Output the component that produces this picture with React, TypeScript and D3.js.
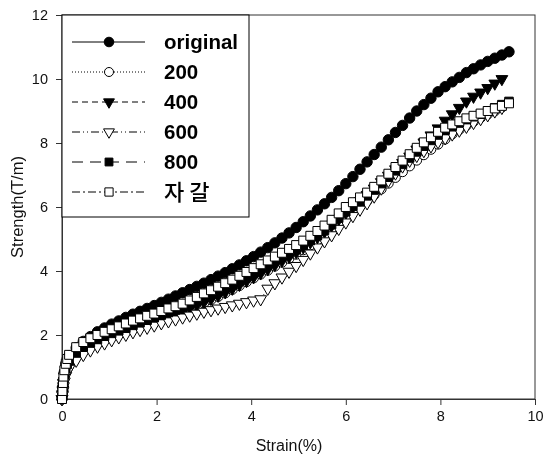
import React, { useRef, useEffect } from "react";
import * as d3 from "d3";

// strain (%) sample positions shared by every series
const strain = [
  0, 0.01, 0.02, 0.03, 0.05, 0.08, 0.11,
  0.15, 0.3, 0.45, 0.6, 0.75, 0.9, 1.05, 1.2, 1.35, 1.5,
  1.65, 1.8, 1.95, 2.1, 2.25, 2.4, 2.55, 2.7, 2.85, 3.0,
  3.15, 3.3, 3.45, 3.6, 3.75, 3.9, 4.05, 4.2, 4.35, 4.5,
  4.65, 4.8, 4.95, 5.1, 5.25, 5.4, 5.55, 5.7, 5.85, 6.0,
  6.15, 6.3, 6.45, 6.6, 6.75, 6.9, 7.05, 7.2, 7.35, 7.5,
  7.65, 7.8, 7.95, 8.1, 8.25, 8.4, 8.55, 8.7, 8.85, 9.0,
  9.15, 9.3, 9.45,
];

// strength (T/m)
const original = [
  0, 0.2, 0.4, 0.6, 0.85, 1.1, 1.25,
  1.35, 1.6, 1.8, 1.95, 2.1, 2.22, 2.34, 2.44, 2.55, 2.65,
  2.74, 2.83, 2.92, 3.02, 3.12, 3.22, 3.32, 3.42, 3.52, 3.62,
  3.73, 3.84, 3.95, 4.07, 4.19, 4.32, 4.45, 4.59, 4.73, 4.88,
  5.03, 5.19, 5.36, 5.54, 5.72, 5.91, 6.1, 6.3, 6.51, 6.73,
  6.95, 7.18, 7.41, 7.64, 7.87, 8.1, 8.33, 8.55, 8.78, 9.0,
  9.2, 9.4, 9.6, 9.76, 9.91, 10.05, 10.2, 10.32, 10.44, 10.55,
  10.65, 10.75, 10.85,
];
const s200 = [
  0, 0.15, 0.3, 0.5, 0.7, 0.9, 1.02,
  1.12, 1.38, 1.55, 1.68, 1.79, 1.88, 1.97, 2.05, 2.13, 2.21,
  2.29, 2.37, 2.45, 2.53, 2.6, 2.68, 2.76, 2.84, 2.92, 3.0,
  3.1, 3.2, 3.31, 3.42, 3.54, 3.66, 3.78, 3.9, 4.02, 4.15,
  4.27, 4.39, 4.52, 4.66, 4.81, 4.96, 5.12, 5.3, 5.5, 5.7,
  5.87, 6.03, 6.2, 6.38, 6.56, 6.74, 6.92, 7.1, 7.28, 7.46,
  7.63, 7.8, 7.96, 8.12, 8.28, 8.42, 8.55, 8.67, 8.79, 8.9,
  9.0, 9.12,
];
const s400 = [
  0, 0.15, 0.3, 0.5, 0.7, 0.9, 1.0,
  1.1, 1.35, 1.52, 1.66, 1.77, 1.87, 1.96, 2.04, 2.12, 2.2,
  2.28, 2.36, 2.44, 2.52, 2.6, 2.68, 2.76, 2.85, 2.94, 3.03,
  3.13, 3.23, 3.34, 3.45, 3.57, 3.69, 3.81, 3.93, 4.06, 4.19,
  4.32, 4.45, 4.59, 4.74, 4.9, 5.06, 5.23, 5.42, 5.62, 5.82,
  6.0, 6.18, 6.38, 6.58, 6.78, 6.98, 7.18, 7.38, 7.58, 7.8,
  8.02, 8.24, 8.46, 8.7, 8.9, 9.1, 9.3, 9.45, 9.58, 9.72,
  9.86, 10.0,
];
const s600 = [
  0, 0.12, 0.25, 0.4, 0.55, 0.72, 0.85,
  0.95, 1.2, 1.38, 1.52, 1.64, 1.74, 1.84, 1.93, 2.01, 2.09,
  2.16, 2.23, 2.3, 2.37, 2.43, 2.49, 2.55, 2.61, 2.67, 2.73,
  2.78, 2.83, 2.88, 2.93, 2.98, 3.03, 3.08, 3.12, 3.45, 3.62,
  3.8, 3.98, 4.16, 4.35, 4.55, 4.74, 4.93, 5.12, 5.32, 5.52,
  5.72, 5.92, 6.12, 6.33, 6.58, 6.82, 7.05, 7.27, 7.45, 7.6,
  7.75, 7.9, 8.03, 8.15, 8.27, 8.39, 8.51, 8.63, 8.75, 8.87,
  8.99, 9.1,
];
const s800 = [
  0, 0.15, 0.35, 0.55, 0.75, 0.95, 1.08,
  1.2, 1.45, 1.62, 1.75, 1.86, 1.96, 2.05, 2.13, 2.21, 2.3,
  2.38, 2.46, 2.54, 2.62, 2.7, 2.78, 2.86, 2.95, 3.05, 3.15,
  3.25, 3.35, 3.46, 3.57, 3.69, 3.81, 3.93, 4.05, 4.17, 4.3,
  4.42, 4.54, 4.66, 4.8, 4.95, 5.1, 5.27, 5.45, 5.65, 5.85,
  6.02, 6.18, 6.35, 6.53, 6.73, 6.93, 7.13, 7.33, 7.53, 7.72,
  7.9, 8.08, 8.25, 8.4, 8.52, 8.63, 8.73, 8.82, 8.9, 9.0,
  9.1, 9.2, 9.3,
];
const gravel = [
  0, 0.25, 0.5, 0.7, 0.9, 1.1, 1.25,
  1.38, 1.62, 1.78, 1.9, 2.0, 2.1, 2.18, 2.27, 2.36, 2.45,
  2.52, 2.6, 2.67, 2.75, 2.83, 2.9, 2.98, 3.08, 3.19, 3.3,
  3.4, 3.51, 3.62, 3.73, 3.85, 3.97, 4.09, 4.21, 4.33, 4.45,
  4.57, 4.69, 4.81, 4.95, 5.1, 5.25, 5.42, 5.6, 5.8, 6.0,
  6.15, 6.3, 6.45, 6.63, 6.83, 7.04, 7.25, 7.45, 7.65, 7.85,
  8.02, 8.18, 8.35, 8.48, 8.58, 8.68, 8.77, 8.85, 8.92, 9.0,
  9.08, 9.16, 9.24,
];

const seriesNames = ["original", "200", "400", "600", "800", "자 갈"];
const seriesValues = [original, s200, s400, s600, s800, gravel];
const xTicks = [0, 2, 4, 6, 8, 10];
const yTicks = [0, 2, 4, 6, 8, 10, 12];

const styles = [
  { shape: d3.symbolCircle, fill: "#000", rotate: 0, size: 85, dash: null },
  { shape: d3.symbolCircle, fill: "#fff", rotate: 0, size: 75, dash: "1,2" },
  { shape: d3.symbolTriangle, fill: "#000", rotate: 180, size: 60, dash: "6,4" },
  { shape: d3.symbolTriangle, fill: "#fff", rotate: 180, size: 60, dash: "8,3,1,3,1,3" },
  { shape: d3.symbolSquare, fill: "#000", rotate: 0, size: 72, dash: "11,7" },
  { shape: d3.symbolSquare, fill: "#fff", rotate: 0, size: 80, dash: "8,3,2,3" },
];

function App() {
  const svgRef = useRef(null);

  useEffect(() => {
    const width = 544,
      height = 463;
    const plot = { left: 62, right: 535, top: 15, bottom: 399 };
    const font = "'Liberation Sans', Arial, sans-serif";

    const svg = d3.select(svgRef.current);
    svg.selectAll("*").remove();
    svg.attr("width", width).attr("height", height);

    const x = d3.scaleLinear().domain([0, 10]).range([plot.left, plot.right]);
    const y = d3.scaleLinear().domain([0, 12]).range([plot.bottom, plot.top]);

    // frame
    svg
      .append("rect")
      .attr("x", plot.left)
      .attr("y", plot.top)
      .attr("width", plot.right - plot.left)
      .attr("height", plot.bottom - plot.top)
      .attr("fill", "none")
      .attr("stroke", "#333")
      .attr("stroke-width", 1);

    const xAxis = svg
      .append("g")
      .attr("transform", "translate(0," + plot.bottom + ")")
      .call(d3.axisBottom(x).tickValues(xTicks).tickSize(6).tickPadding(6).tickSizeOuter(0));
    const yAxis = svg
      .append("g")
      .attr("transform", "translate(" + plot.left + ",0)")
      .call(d3.axisLeft(y).tickValues(yTicks).tickSize(6).tickPadding(8).tickSizeOuter(0));

    [xAxis, yAxis].forEach((g) => {
      g.select(".domain").attr("stroke", "#333");
      g.selectAll(".tick line").attr("stroke", "#333");
      g.selectAll(".tick text")
        .attr("fill", "#111")
        .style("font-family", font)
        .style("font-size", "14.5px");
    });

    svg
      .append("text")
      .attr("x", 289)
      .attr("y", 451)
      .attr("text-anchor", "middle")
      .style("font-family", font)
      .style("font-size", "16px")
      .attr("fill", "#111")
      .text("Strain(%)");

    svg
      .append("text")
      .attr("transform", "translate(23,207) rotate(-90)")
      .attr("text-anchor", "middle")
      .style("font-family", font)
      .style("font-size", "16.5px")
      .attr("fill", "#111")
      .text("Strength(T/m)");

    const line = d3
      .line()
      .x((d) => x(d[0]))
      .y((d) => y(d[1]));

    const sym = (st, size) => d3.symbol().type(st.shape).size(size)();

    seriesValues.forEach((vals, i) => {
      const pts = vals.map((v, j) => [strain[j], v]);
      const st = styles[i];
      svg
        .append("path")
        .attr("d", line(pts))
        .attr("fill", "none")
        .attr("stroke", "#000")
        .attr("stroke-width", 1)
        .attr("stroke-dasharray", st.dash);
      svg
        .append("g")
        .selectAll("path")
        .data(pts)
        .join("path")
        .attr("d", sym(st, st.size))
        .attr(
          "transform",
          (d) => "translate(" + x(d[0]) + "," + y(d[1]) + ") rotate(" + st.rotate + ")"
        )
        .attr("fill", st.fill)
        .attr("stroke", "#000")
        .attr("stroke-width", 1);
    });

    // legend
    const legend = svg.append("g");
    legend
      .append("rect")
      .attr("x", plot.left)
      .attr("y", plot.top)
      .attr("width", 187)
      .attr("height", 202)
      .attr("fill", "#fff")
      .attr("stroke", "#000")
      .attr("stroke-width", 1);

    seriesNames.forEach((name, i) => {
      const st = styles[i];
      const cy = 42 + i * 30;
      legend
        .append("line")
        .attr("x1", 72)
        .attr("x2", 145)
        .attr("y1", cy)
        .attr("y2", cy)
        .attr("stroke", "#000")
        .attr("stroke-width", 1)
        .attr("stroke-dasharray", st.dash);
      legend
        .append("path")
        .attr("d", sym(st, st.size * 0.85))
        .attr("transform", "translate(109," + cy + ") rotate(" + st.rotate + ")")
        .attr("fill", st.fill)
        .attr("stroke", "#000")
        .attr("stroke-width", 1);
      legend
        .append("text")
        .attr("x", 164)
        .attr("y", cy)
        .attr("dy", "0.36em")
        .style("font-family", i === 5 ? "'Noto Sans CJK KR', sans-serif" : font)
        .style("font-size", i === 5 ? "22px" : "20.5px")
        .style("font-weight", i === 5 ? "500" : "bold")
        .attr("fill", "#000")
        .text(name);
    });
  }, []);

  return (
    <div style={{ position: "fixed", left: 0, top: 0 }}>
      <svg ref={svgRef}></svg>
    </div>
  );
}

export default App;
